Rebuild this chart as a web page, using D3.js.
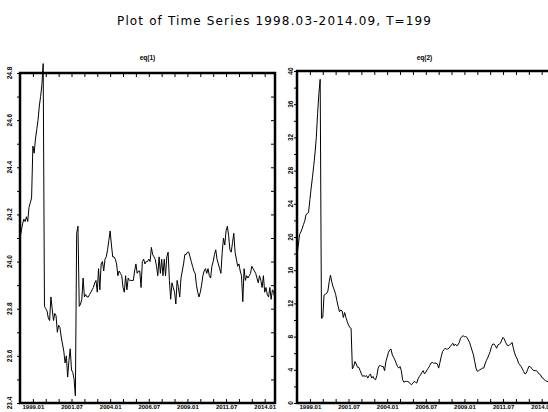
<!DOCTYPE html>
<html>
<head>
<meta charset="utf-8">
<script src="https://cdn.jsdelivr.net/npm/d3@7"></script>
<style>
body { margin: 0; background: #fff; }
svg { display: block; }
</style>
</head>
<body>
<div id="chart"></div>
<script>
var eq1 = [
  24.10, 24.13, 24.16, 24.18, 24.17, 24.19, 24.17, 24.23, 24.25, 24.27,
  24.49, 24.46, 24.52, 24.56, 24.60, 24.66, 24.70, 24.75, 24.84,
  23.81, 23.80, 23.79, 23.76, 23.75, 23.85, 23.80, 23.75, 23.78, 23.77,
  23.70, 23.73, 23.72, 23.68, 23.65, 23.62, 23.57, 23.60, 23.51, 23.58,
  23.63, 23.54, 23.53, 23.50, 23.43, 24.12, 24.15,
  23.81, 23.82, 23.84, 23.93, 23.85, 23.86, 23.85, 23.85, 23.86, 23.87,
  23.88, 23.89, 23.91, 23.92, 23.87, 23.97, 23.88, 23.99, 24.00, 23.96,
  24.01, 24.02, 24.05, 24.09, 24.13, 24.07, 24.02, 24.02, 24.01, 23.99,
  23.94, 23.96, 23.95, 23.94, 23.89, 23.87, 23.94, 23.88, 23.93, 23.92,
  23.92, 23.92, 23.92, 23.96, 23.99, 23.95, 23.96, 23.96, 23.89, 24.00,
  24.01, 23.99, 24.00, 24.00, 24.01, 24.00, 24.06, 24.03, 24.02, 24.01,
  23.98, 23.94, 24.02, 23.95, 24.01, 23.94, 24.01, 23.94, 24.02, 24.04,
  23.92, 23.84, 23.91, 23.89, 23.87, 23.82, 23.92, 23.89, 23.85, 23.93,
  23.96, 23.99, 24.03, 24.03, 24.04, 24.04, 24.02, 24.00, 23.98, 23.96,
  23.95, 23.90, 23.87, 23.85, 23.87, 23.90, 23.94, 23.96, 23.97, 23.95,
  23.97, 23.94, 23.93, 23.98, 24.00, 24.03, 24.05, 24.01, 23.99, 23.97,
  23.95, 24.04, 24.10, 24.07, 24.13, 24.15, 24.11, 24.05, 24.04, 24.08,
  24.12, 24.04, 24.01, 23.98, 23.99, 23.96, 23.94, 23.83, 23.97, 23.92,
  23.94, 23.93, 23.94, 23.95, 23.98, 23.97, 23.96, 23.95, 23.93, 23.91,
  23.94, 23.92, 23.89, 23.94, 23.87, 23.89, 23.86, 23.85, 23.89, 23.84,
  23.88, 23.87, 23.84
];

var eq2 = [
  17.8, 19.0, 20.3, 20.6, 21.0, 21.5, 21.9, 22.7, 22.8, 23.0,
  24.5, 25.9, 27.2, 28.6, 30.1, 32.0, 34.9, 37.3, 39.0,
  10.2, 10.3, 13.0, 13.1, 13.2, 13.5, 14.6, 15.4, 14.6, 14.0,
  13.6, 13.1, 12.3, 11.6, 11.0, 11.2, 11.1, 10.3, 10.9, 10.3,
  9.8, 9.4, 9.1, 9.0, 4.1, 4.4, 5.0, 4.7, 4.3, 4.3,
  3.9, 3.5, 3.2, 3.3, 3.2, 3.3, 3.0, 3.3, 3.5, 3.0,
  3.2, 2.9, 2.8, 3.3, 4.2, 4.5, 4.5, 4.4, 4.4, 3.9,
  5.0, 5.5, 6.1, 6.4, 6.5, 5.8, 5.5, 5.2, 4.8, 4.4,
  4.2, 4.4, 3.9, 2.8, 2.5, 2.6, 2.6, 2.6, 2.5, 2.3,
  2.2, 2.4, 2.6, 2.5, 2.4, 2.9, 3.2, 3.4, 3.7, 3.9,
  3.5, 3.7, 4.0, 4.2, 4.5, 4.8, 4.9, 4.8, 4.8, 4.8,
  4.7, 4.2, 4.9, 5.6, 6.2, 6.4, 6.6, 6.5, 6.5, 6.6,
  6.8, 7.0, 7.2, 6.9, 7.1, 6.9, 7.0, 7.3, 7.8, 8.0,
  8.1, 8.0, 8.0, 7.9, 7.6, 7.3, 6.8, 6.3, 5.8, 5.0,
  4.2, 3.8, 3.9, 4.0, 4.1, 4.2, 4.2, 4.7, 5.1, 5.4,
  5.8, 6.2, 6.8, 7.1, 7.1, 6.9, 6.6, 7.0, 7.1, 7.2,
  7.6, 7.9, 7.7, 7.3, 7.0, 6.9, 7.0, 7.1, 7.3, 6.6,
  6.0, 5.6, 5.3, 4.8, 4.6, 4.4, 4.1, 3.8, 3.5, 3.6,
  4.0, 4.4, 4.4, 4.2, 4.0, 3.9, 3.9, 3.9, 3.7, 3.5,
  3.4, 3.1, 3.0, 2.8, 2.7, 2.6, 2.6, 2.5, 2.5, 2.6
];

// x axis: observation index of labelled months
var xLabelIdx = [10, 40, 70, 100, 130, 160, 190];
var xLabels = ["1999.01", "2001.07", "2004.01", "2006.07", "2009.01", "2011.07", "2014.01"];

var eq1Ticks = [23.4, 23.6, 23.8, 24.0, 24.2, 24.4, 24.6, 24.8];
var eq1Labels = ["23.4", "23.6", "23.8", "24.0", "24.2", "24.4", "24.6", "24.8"];
var eq2Ticks = [0, 4, 8, 12, 16, 20, 24, 28, 32, 36, 40];
var eq2Labels = ["0", "4", "8", "12", "16", "20", "24", "28", "32", "36", "40"];

var svg = d3.select("#chart").append("svg")
    .attr("width", 548)
    .attr("height", 412);

svg.append("text")
    .attr("x", 274)
    .attr("y", 25)
    .attr("text-anchor", "middle")
    .attr("textLength", 314)
    .attr("lengthAdjust", "spacing")
    .style("font-family", "DejaVu Sans")
    .style("font-size", "12px")
    .text("Plot of Time Series 1998.03-2014.09, T=199");

var panels = [
    { title: "eq(1)", data: eq1, left: 20, right: 275, top: 73, bottom: 403,
      domain: [23.4, 24.8], ticks: eq1Ticks, labels: eq1Labels, minor: 0.1, labelX: 10 },
    { title: "eq(2)", data: eq2, left: 297, right: 552, top: 71, bottom: 403,
      domain: [0, 40], ticks: eq2Ticks, labels: eq2Labels, minor: 2, labelX: 290.5 }
];

panels.forEach(function (p) {
    var x = d3.scaleLinear().domain([0, p.data.length - 1]).range([p.left, p.right]);
    var y = d3.scaleLinear().domain(p.domain).range([p.bottom, p.top]);

    var xTicks = d3.range(10, p.data.length, 10);
    var yTicks = d3.range(p.domain[0], p.domain[1] + p.minor / 2, p.minor);

    var g = svg.append("g");

    // title of the panel
    g.append("text")
        .attr("x", (p.left + p.right) / 2)
        .attr("y", 60)
        .attr("text-anchor", "middle")
        .style("font-family", "Liberation Sans")
        .style("font-weight", "bold")
        .style("font-size", "6.5px")
        .text(p.title);

    // ticks on the four sides
    g.append("g")
        .attr("transform", "translate(0," + p.bottom + ")")
        .call(d3.axisBottom(x).tickValues(xTicks).tickSize(-4).tickFormat(""))
        .call(function (a) { a.select(".domain").remove(); });
    g.append("g")
        .attr("transform", "translate(0," + p.top + ")")
        .call(d3.axisTop(x).tickValues(xTicks).tickSize(-4).tickFormat(""))
        .call(function (a) { a.select(".domain").remove(); });
    g.append("g")
        .attr("transform", "translate(" + p.left + ",0)")
        .call(d3.axisLeft(y).tickValues(yTicks).tickSize(3).tickFormat(""))
        .call(function (a) { a.select(".domain").remove(); });
    g.append("g")
        .attr("transform", "translate(" + p.right + ",0)")
        .call(d3.axisRight(y).tickValues(yTicks).tickSize(-4).tickFormat(""))
        .call(function (a) { a.select(".domain").remove(); });

    // x labels
    g.append("g")
        .attr("transform", "translate(0," + p.bottom + ")")
        .call(d3.axisBottom(x).tickValues(xLabelIdx).tickSize(0).tickPadding(2)
            .tickFormat(function (d, i) { return xLabels[i]; }))
        .call(function (a) {
            a.select(".domain").remove();
            a.selectAll("text")
                .attr("fill", "#000")
                .style("font-family", "Liberation Sans")
                .style("font-weight", "bold")
                .style("font-size", "6px");
        });

    // y labels, turned on their side
    g.selectAll(".ylab")
        .data(p.ticks)
        .enter().append("text")
        .attr("class", "ylab")
        .attr("x", p.labelX)
        .attr("y", function (d) { return y(d); })
        .attr("transform", function (d) { return "rotate(-90," + p.labelX + "," + y(d) + ")"; })
        .attr("text-anchor", "middle")
        .attr("dy", "0.35em")
        .style("font-family", "Liberation Sans")
        .style("font-weight", "bold")
        .style("font-size", "6.5px")
        .text(function (d, i) { return p.labels[i]; });

    // frame
    g.append("rect")
        .attr("x", p.left)
        .attr("y", p.top)
        .attr("width", p.right - p.left)
        .attr("height", p.bottom - p.top)
        .attr("fill", "none")
        .attr("stroke", "#000")
        .attr("stroke-width", 2.5);

    var line = d3.line()
        .x(function (d, i) { return x(i); })
        .y(function (d) { return y(d); });

    g.append("path")
        .datum(p.data)
        .attr("fill", "none")
        .attr("stroke", "#000")
        .attr("stroke-width", 1)
        .attr("d", line);
});
</script>
</body>
</html>
